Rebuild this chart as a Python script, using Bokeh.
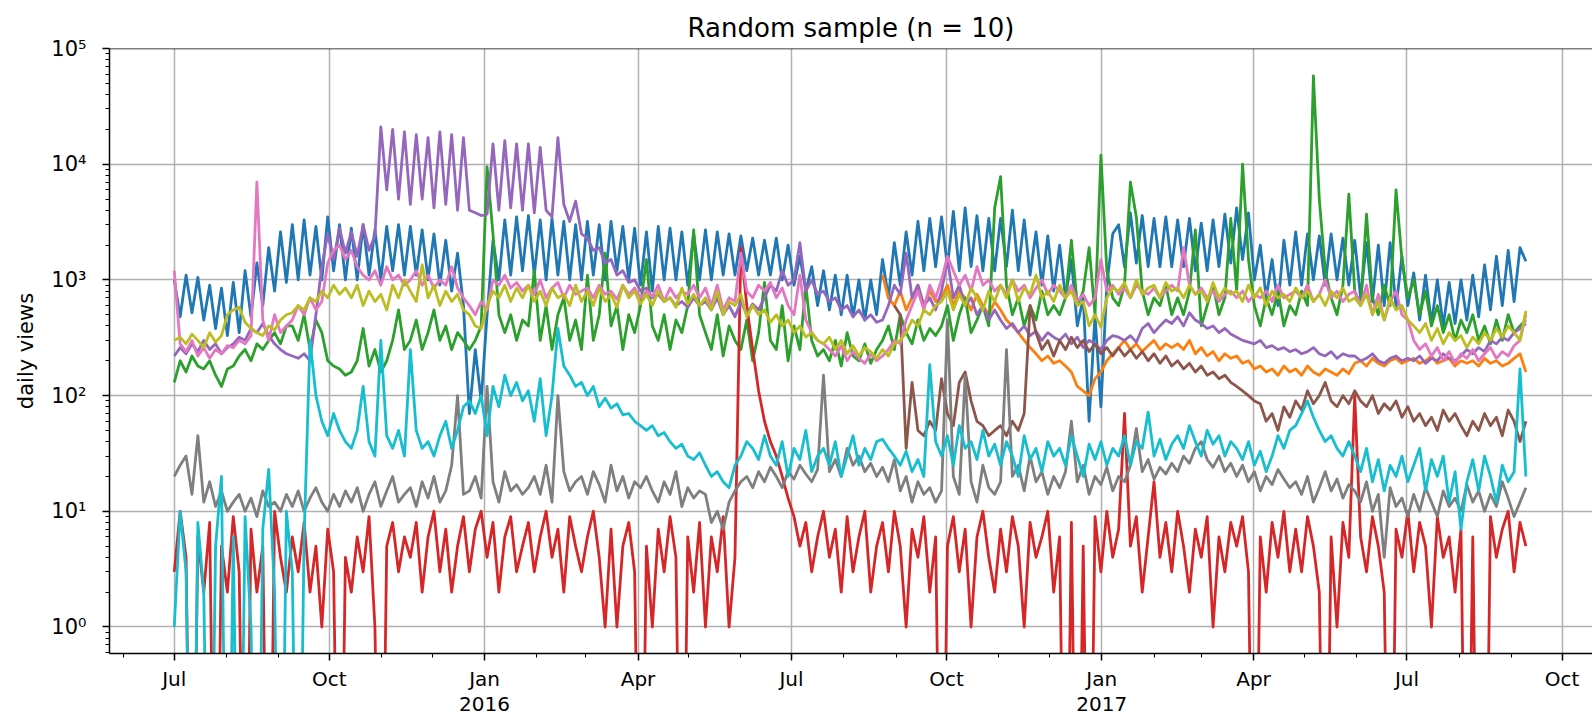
import numpy as np
from datetime import datetime, timezone
from bokeh.plotting import figure
from bokeh.models import Range1d, FixedTicker, CustomJSTickFormatter, LinearAxis, Span
from bokeh.embed import file_html
from bokeh.resources import INLINE

# ---------------- data (daily views, one value every 3.5 days from 2015-07-01) ----------------
START_DATE = (2015, 7, 1)
STEP_DAYS = 3.5
TITLE = "Random sample (n = 10)"

views_blue = [
    1000, 480, 1100, 520, 1050, 450, 900, 380, 850, 330,
    950, 350, 1200, 480, 1400, 600, 1900, 800, 2600, 950,
    3000, 1000, 3300, 1100, 2900, 1000, 3500, 1200, 3000, 1000,
    2800, 1000, 3000, 1100, 2700, 1000, 2900, 1200, 3000, 1100,
    2900, 1100, 2700, 1000, 2500, 900, 2200, 800, 1700, 600,
    70, 250, 90, 500, 2200, 1000, 3300, 1100, 3500, 1200,
    3600, 1100, 3300, 1000, 3400, 1100, 3200, 1000, 3000, 1000,
    3200, 1100, 3000, 1000, 3200, 1200, 2900, 1000, 2800, 900,
    2600, 800, 2900, 1000, 2800, 1000, 2600, 900, 2500, 1000,
    2700, 1000, 2600, 1100, 2500, 1100, 2400, 1200, 2300, 1100,
    2200, 1100, 2300, 1000, 2000, 900, 1600, 800, 1300, 600,
    1200, 550, 1100, 500, 1100, 480, 1000, 450, 1000, 500,
    1500, 700, 2100, 900, 2600, 1100, 3200, 1200, 3400, 1300,
    3500, 1300, 3900, 1200, 4200, 1300, 3600, 1200, 3400, 1200,
    3400, 1300, 4000, 1200, 3300, 1100, 2600, 900, 2400, 800,
    2000, 700, 1500, 400, 700, 60, 500, 80, 900, 2500,
    3000, 1300, 3800, 1400, 3600, 1300, 3400, 1300, 3500, 1300,
    3300, 1300, 3400, 1200, 3100, 1200, 3300, 1300, 3700, 1400,
    4200, 1500, 3800, 1000, 2000, 700, 1500, 600, 2200, 900,
    2600, 900, 2500, 1000, 2400, 900, 2500, 1000, 2300, 900,
    2200, 700, 2100, 650, 2000, 600, 2100, 580, 1600, 600,
    1150, 450, 1100, 420, 1000, 400, 950, 420, 1000, 450,
    1100, 480, 1350, 550, 1600, 600, 1800, 650, 1900, 1450,
]

views_orange = [None] * 120 + [
    1100, 700, 600, 800, 550, 700, 900, 600, 800, 650,
    700, 900, 600, 800, 700, 550, 750, 600, 500, 650,
    550, 450, 400, 350, 300, 260, 230, 200, 220, 190,
    200, 180, 160, 120, 110, 100, 140, 160, 200, 230,
    260, 300, 250, 280, 240, 270, 300, 250, 280, 260,
    280, 250, 300, 230, 260, 220, 240, 200, 230, 210,
    220, 190, 200, 170, 180, 160, 170, 150, 180, 160,
    170, 150, 180, 160, 150, 170, 160, 150, 170, 155,
    190, 200, 180, 210, 190, 180, 200, 210, 190, 200,
    210, 190, 200, 220, 190, 200, 210, 180, 200, 190,
    200, 180, 210, 190, 200, 180, 190, 210, 230, 160,
]

views_green = [
    130, 200, 160, 220, 180, 170, 200, 150, 120, 170,
    180, 220, 250, 200, 280, 250, 300, 350, 280, 400,
    400, 300, 500, 250, 450, 350, 200, 180, 170, 150,
    160, 200, 380, 180, 250, 160, 200, 300, 550, 250,
    300, 450, 250, 350, 550, 300, 400, 250, 350, 300,
    250, 300, 400, 9500, 2500, 500, 350, 500, 300, 450,
    400, 1200, 300, 600, 250, 500, 700, 300, 450, 250,
    1100, 300, 500, 1700, 400, 600, 250, 500, 350, 600,
    1500, 400, 300, 500, 250, 450, 350, 600, 2700, 500,
    350, 250, 500, 220, 400, 300, 250, 450, 200, 350,
    950, 300, 250, 600, 200, 400, 250, 900, 300, 220,
    250, 200, 300, 180, 350, 220, 200, 280, 190, 250,
    300, 400, 250, 500, 350, 280, 450, 300, 380, 330,
    400, 600, 300, 500, 700, 350, 450, 600, 400, 4200,
    7800, 900, 500, 700, 400, 600, 450, 800, 500, 600,
    500, 700, 2200, 600, 800, 1900, 500, 12000, 1200, 700,
    600, 900, 7000, 3500, 800, 500, 700, 600, 900, 500,
    700, 500, 800, 2700, 400, 600, 900, 500, 700, 3400,
    800, 10000, 1500, 600, 400, 700, 500, 800, 400, 600,
    500, 800, 600, 58000, 5000, 1200, 700, 500, 900, 5500,
    800, 600, 3700, 700, 500, 900, 600, 6000, 1500, 700,
    1000, 500, 800, 400, 600, 350, 500, 300, 450, 350,
    500, 300, 400, 280, 450, 300, 500, 350, 400, 450,
]

views_red = [
    3, 10, 4, 0, 6, 2, 8, 0, 5, 2,
    9, 3, 0, 7, 2, 5, 0, 10, 4, 2,
    6, 3, 8, 2, 5, 1, 7, 3, 0, 4,
    2, 6, 3, 9, 1, 0, 5, 8, 3, 6,
    4, 8, 2, 6, 10, 3, 7, 2, 5, 9,
    3, 7, 10, 4, 8, 2, 6, 9, 3, 5,
    8, 3, 6, 10, 4, 7, 2, 9, 5, 3,
    6, 10, 4, 1, 7, 1, 5, 8, 3, 0,
    5, 1, 7, 3, 9, 4, 0, 6, 2, 8,
    1, 6, 3, 9, 1, 4, 1900, 600, 250, 110,
    60, 40, 30, 20, 13, 9, 5, 8, 3, 6,
    10, 4, 7, 2, 9, 3, 6, 10, 2, 5,
    8, 3, 10, 5, 1, 7, 4, 9, 2, 6,
    0, 5, 9, 3, 7, 1, 6, 10, 4, 2,
    7, 3, 9, 5, 1, 8, 4, 6, 10, 2,
    6, 0, 8, 0, 5, 0, 9, 3, 10, 4,
    7, 70, 5, 9, 2, 6, 18, 4, 8, 3,
    10, 5, 2, 7, 4, 9, 1, 6, 3, 8,
    5, 9, 3, 0, 6, 2, 8, 4, 10, 3,
    7, 3, 9, 5, 2, 0, 6, 1, 8, 4,
    100, 6, 3, 9, 5, 2, 0, 7, 4, 10,
    3, 8, 5, 1, 9, 4, 6, 2, 7, 0,
    6, 0, 0, 9, 4, 7, 10, 3, 8, 5,
]

views_purple = [
    220, 260, 230, 280, 240, 300, 250, 280, 230, 260,
    280, 320, 300, 380, 350, 420, 330, 280, 250, 230,
    220, 210, 230, 200, 500, 1300, 2500, 1500, 2800, 1700,
    2600, 1600, 3000, 1800, 2400, 21000, 6000, 20000, 5000, 19000,
    4500, 18000, 5000, 17000, 4200, 19000, 4500, 18000, 4000, 17000,
    4000, 3800, 3600, 3700, 15000, 4000, 16000, 4200, 15000, 4000,
    15000, 3800, 14000, 4000, 3500, 17000, 4500, 3200, 4800, 2500,
    2300, 1800, 1900, 1400, 1500, 1100, 1200, 950, 1000, 800,
    850, 700, 750, 650, 700, 600, 650, 580, 700, 600,
    650, 550, 700, 500, 600, 480, 650, 500, 620, 550,
    700, 900, 800, 1200, 900, 1000, 2100, 800, 1000, 750,
    800, 650, 700, 550, 600, 480, 550, 450, 500, 430,
    450, 600, 900, 750, 1700, 700, 900, 600, 700, 550,
    800, 1500, 700, 900, 600, 700, 500, 600, 450, 550,
    450, 380, 420, 350, 400, 330, 360, 300, 350, 320,
    300, 340, 280, 320, 260, 300, 280, 250, 300, 330,
    320, 300, 330, 290, 380, 420, 350, 400, 450, 420,
    480, 400, 520, 450, 420, 380, 400, 350, 380, 340,
    320, 300, 290, 280, 300, 260, 270, 250, 260, 240,
    250, 230, 240, 260, 230, 220, 240, 210, 230, 220,
    220, 200, 210, 230, 200, 190, 210, 220, 200, 210,
    200, 220, 190, 210, 200, 230, 210, 200, 220, 250,
    230, 260, 240, 300, 280, 320, 300, 350, 380, 420,
]

views_brown = [None] * 122 + [
    600, 500, 35, 130, 50, 45, 60, 50,
    140, 70, 55, 130, 160, 90, 60, 55, 45, 50,
    55, 45, 60, 50, 70, 600, 350, 250, 300, 220,
    300, 250, 320, 260, 300, 240, 280, 230, 260, 220,
    260, 220, 250, 210, 240, 200, 230, 190, 220, 180,
    200, 170, 190, 160, 180, 150, 160, 140, 150, 130,
    120, 110, 100, 90, 85, 60, 70, 50, 80, 65,
    90, 75, 110, 85, 100, 130, 90, 80, 100, 85,
    110, 90, 80, 100, 70, 85, 75, 90, 65, 80,
    60, 70, 55, 65, 50, 75, 60, 70, 55, 45,
    60, 50, 70, 55, 65, 45, 75, 60, 40, 60,
]

views_pink = [
    1200, 280, 240, 300, 220, 260, 210, 250, 230, 270,
    260, 300, 280, 330, 7000, 450, 300, 500, 350, 400,
    450, 600, 500, 700, 550, 650, 1400, 1800, 2000, 1500,
    1800, 1300, 1100, 1000, 1200, 900, 1300, 1000, 1100, 900,
    1000, 1200, 900, 1100, 850, 1000, 900, 1300, 850, 700,
    600, 500, 650, 550, 1000, 900, 1100, 850, 950, 800,
    900, 750, 1000, 700, 850, 950, 700, 900, 750, 800,
    850, 700, 900, 750, 800, 680, 900, 750, 850, 700,
    800, 720, 900, 650, 850, 700, 800, 750, 900, 700,
    850, 600, 900, 550, 700, 650, 1700, 800, 700, 900,
    800, 950, 700, 850, 600, 500, 1100, 450, 350, 300,
    280, 250, 220, 270, 200, 240, 210, 190, 230, 200,
    220, 250, 300, 280, 450, 600, 800, 550, 900, 700,
    1000, 1600, 1200, 900, 1100, 800, 1300, 900, 1000, 800,
    900, 750, 1000, 800, 900, 700, 850, 1000, 750, 900,
    800, 700, 900, 650, 750, 600, 700, 1500, 800, 900,
    750, 850, 700, 900, 800, 750, 850, 700, 800, 900,
    800, 1900, 900, 750, 850, 700, 800, 650, 750, 800,
    700, 800, 650, 750, 700, 800, 650, 900, 700, 750,
    800, 700, 900, 650, 750, 1000, 700, 800, 650, 750,
    800, 600, 900, 500, 750, 450, 650, 800, 500, 450,
    300, 250, 280, 220, 260, 200, 240, 190, 230, 210,
    250, 200, 230, 260, 210, 240, 220, 270, 300, 500,
]

views_gray = [
    20, 25, 30, 14, 45, 12, 18, 11, 15, 10,
    12, 14, 10, 13, 9, 15, 11, 12, 10, 14,
    11, 15, 10, 13, 16, 12, 10, 14, 11, 15,
    12, 16, 10, 14, 18, 11, 15, 20, 12, 14,
    16, 11, 18, 13, 20, 12, 15, 25, 100, 14,
    15, 20, 13, 120, 18, 12, 22, 15, 17, 14,
    16, 20, 14, 25, 12, 100, 22, 15, 18, 20,
    14, 22, 17, 12, 25, 15, 20, 13, 18, 16,
    20, 15, 12, 18, 14, 22, 11, 16, 13, 15,
    14, 8, 10, 7, 12, 15, 18, 20, 16, 22,
    18, 24, 20, 16, 22, 19, 25, 21, 18, 23,
    150, 22, 28, 20, 35, 25, 30, 22, 26, 20,
    24, 18, 28, 15, 20, 12, 18, 14, 16, 12,
    15, 450, 20, 14, 150, 18, 12, 25, 16, 14,
    18, 250, 20, 25, 15, 30, 18, 22, 14, 20,
    16, 22, 60, 18, 25, 14, 20, 17, 24, 15,
    20, 18, 25, 52, 22, 28, 19, 24, 21, 26,
    22, 30, 26, 35, 40, 28, 24, 30, 22, 26,
    20, 25, 18, 22, 15, 20, 17, 23, 19, 16,
    18, 14, 20, 12, 16, 22, 15, 19, 13, 17,
    15, 12, 18, 10, 14, 4, 16, 11, 13, 9,
    14, 10, 16, 12, 9, 15, 11, 13, 10, 17,
    12, 15, 10, 14, 11, 18, 13, 9, 12, 16,
]

views_olive = [
    300, 320, 280, 340, 300, 260, 350, 290, 330, 500,
    550, 580, 430, 380, 350, 330, 400, 370, 450, 500,
    520, 600, 550, 700, 650, 800, 700, 900, 750, 850,
    700, 900, 600, 800, 650, 750, 550, 900, 700, 1000,
    800, 650, 1350, 700, 900, 600, 800, 650, 750, 550,
    500, 400, 380, 600, 800, 700, 900, 650, 850, 700,
    900, 650, 800, 600, 850, 700, 750, 600, 900, 650,
    800, 600, 850, 650, 750, 580, 900, 700, 800, 620,
    750, 600, 800, 650, 700, 580, 850, 620, 750, 600,
    700, 550, 800, 500, 650, 600, 750, 480, 600, 500,
    550, 430, 500, 400, 450, 350, 400, 320, 350, 300,
    280, 320, 250, 300, 230, 270, 220, 260, 240, 210,
    250, 220, 280, 300, 350, 450, 400, 550, 500, 600,
    650, 800, 550, 750, 600, 850, 700, 550, 800, 650,
    900, 700, 1000, 650, 850, 750, 1100, 700, 800, 650,
    900, 700, 800, 600, 650, 400, 500, 390, 700, 850,
    800, 950, 700, 1000, 750, 850, 900, 700, 950, 800,
    850, 700, 900, 750, 800, 650, 950, 700, 850, 750,
    800, 650, 900, 700, 850, 600, 800, 700, 750, 650,
    850, 700, 800, 650, 750, 600, 800, 700, 850, 650,
    700, 600, 750, 500, 650, 450, 700, 550, 600, 450,
    400, 350, 420, 300, 380, 280, 350, 300, 330, 260,
    320, 280, 350, 300, 380, 320, 400, 350, 300, 540,
]

views_cyan = [
    1, 10, 3, 0, 8, 2, 0, 5, 20, 0,
    6, 0, 9, 1, 0, 7, 23, 2, 0, 10,
    3, 0, 6, 300, 100, 60, 45, 70, 50, 40,
    35, 50, 120, 40, 30, 300, 45, 35, 50, 30,
    250, 50, 35, 40, 30, 45, 60, 35, 50, 80,
    90, 70, 100, 45, 120, 80, 150, 100, 130, 90,
    110, 60, 140, 45, 100, 380, 180, 150, 120, 130,
    100, 120, 80, 95, 78, 85, 68, 70, 60, 55,
    50, 55, 45, 48, 40, 35, 38, 30, 28, 32,
    25, 20, 22, 18, 16, 25, 30, 40, 35, 28,
    45, 30, 25, 40, 20, 35, 28, 50, 22, 30,
    35, 25, 40, 20, 30, 45, 25, 35, 28, 40,
    42, 35, 30, 25, 33, 22, 28, 20, 185, 40,
    30, 45, 25, 55, 35, 40, 28, 50, 30, 38,
    25, 40, 30, 20, 45, 28, 35, 22, 40, 30,
    35, 25, 45, 30, 20, 38, 28, 40, 25, 35,
    30, 45, 25, 40, 35, 72, 30, 42, 28, 38,
    45, 35, 55, 40, 30, 50, 38, 45, 30, 40,
    35, 28, 40, 25, 33, 22, 30, 45, 35, 50,
    55, 70, 90, 65, 50, 40, 45, 35, 30, 40,
    30, 22, 35, 18, 28, 15, 25, 20, 30, 18,
    25, 35, 15, 28, 20, 30, 12, 22, 7, 18,
    28, 15, 30, 20, 12, 25, 18, 22, 170, 20,
]

series = [views_blue, views_orange, views_green, views_red, views_purple,
          views_brown, views_pink, views_gray, views_olive, views_cyan]
colors = ["#1f77b4", "#ff7f0e", "#2ca02c", "#d62728", "#9467bd",
          "#8c564b", "#e377c2", "#7f7f7f", "#bcbd22", "#17becf"]

major_dates = [(2015, 7, 1), (2015, 10, 1), (2016, 1, 1), (2016, 4, 1), (2016, 7, 1),
               (2016, 10, 1), (2017, 1, 1), (2017, 4, 1), (2017, 7, 1), (2017, 10, 1)]
major_labels = ["Jul", "Oct", "Jan", "Apr", "Jul", "Oct", "Jan", "Apr", "Jul", "Oct"]
year_dates = [(2016, 1, 1), (2017, 1, 1)]
year_labels = ["2016", "2017"]

# ---------------- helpers ----------------
DAY_MS = 86400000.0


def ms(y, m, d):
    return datetime(y, m, d, tzinfo=timezone.utc).timestamp() * 1000.0


base = ms(*START_DATE)
n = len(views_blue)
x = base + np.arange(n) * STEP_DAYS * DAY_MS

major_ms = [ms(*t) for t in major_dates]
year_ms = [ms(*t) for t in year_dates]
minor_ms = []
for yy in (2015, 2016, 2017):
    for mm in range(1, 13):
        v = ms(yy, mm, 1)
        if ms(2015, 6, 1) <= v <= ms(2017, 10, 1):
            minor_ms.append(v)

FRAME_LEFT = 109
FRAME_TOP = 48
FRAME_BOTTOM = 653
W, H = 1592, 716
Y_LO, Y_HI = 0.59, 1e5
x_start = base - 38.4 * DAY_MS
x_end = base + 841.0 * DAY_MS

p = figure(width=W, height=H, x_axis_type="datetime", y_axis_type="log",
           x_range=Range1d(x_start, x_end), y_range=Range1d(Y_LO, Y_HI),
           output_backend="svg", toolbar_location=None,
           min_border_left=FRAME_LEFT, min_border_right=0,
           min_border_top=FRAME_TOP, min_border_bottom=H - FRAME_BOTTOM,
           title=TITLE)

p.background_fill_color = "white"
p.border_fill_color = "white"
p.outline_line_color = None

FONT = "DejaVu Sans"
p.title.align = "center"
p.title.vertical_align = "middle"
p.title.text_font = FONT
p.title.text_font_size = "26px"
p.title.text_font_style = "normal"
p.title.text_color = "#000000"
p.title.standoff = 10

for vals, c in zip(series, colors):
    arr = np.array(vals, dtype=float)
    arr = np.where(arr == 0, 1e-3, arr)  # zero views fall off the log axis
    p.line(x, arr, line_color=c, line_width=2.8, line_join="round")

# top spine
p.add_layout(Span(location=Y_HI, dimension="width", line_color="black", line_width=1.5))

LABEL_JS = """
for (let i = 0; i < tvals.length; i++) {
  if (Math.abs(tvals[i] - tick) < 43200000) { return tlabels[i]; }
}
return '';
"""

# x axis (months)
xax = p.xaxis[0]
xax.ticker = FixedTicker(ticks=major_ms, minor_ticks=minor_ms)
p.xgrid.ticker = FixedTicker(ticks=major_ms)
xax.formatter = CustomJSTickFormatter(args=dict(tvals=major_ms, tlabels=major_labels), code=LABEL_JS)
xax.major_label_text_font = FONT
xax.major_label_text_font_size = "20px"
xax.major_label_text_color = "#000000"
xax.major_label_standoff = 6
xax.major_tick_in = 0
xax.major_tick_out = 7
xax.minor_tick_in = 0
xax.minor_tick_out = 4
xax.axis_line_width = 1.5
xax.major_tick_line_width = 1.5
xax.minor_tick_line_width = 1.1
xax.axis_line_color = "black"
xax.major_tick_line_color = "black"
xax.minor_tick_line_color = "black"

# year labels under Jan ticks
yrax = LinearAxis(ticker=FixedTicker(ticks=year_ms, minor_ticks=[]),
                  formatter=CustomJSTickFormatter(args=dict(tvals=year_ms, tlabels=year_labels), code=LABEL_JS))
yrax.axis_line_color = None
yrax.major_tick_line_color = None
yrax.minor_tick_line_color = None
yrax.major_tick_in = 0
yrax.major_tick_out = 0
yrax.major_label_standoff = 3
yrax.major_label_text_font = FONT
yrax.major_label_text_font_size = "20px"
yrax.major_label_text_color = "#000000"
p.add_layout(yrax, "below")

# y axis (log)
ymin_ticks = []
for e in range(-1, 5):
    for m in range(2, 10):
        v = m * 10.0 ** e
        if Y_LO <= v <= Y_HI:
            ymin_ticks.append(v)
yax = p.yaxis[0]
yax.ticker = FixedTicker(ticks=[1, 10, 100, 1000, 10000, 100000], minor_ticks=ymin_ticks)
p.ygrid.ticker = FixedTicker(ticks=[1, 10, 100, 1000, 10000, 100000])
yax.formatter = CustomJSTickFormatter(code=r"""
const sup = ['\u2070', '\u00b9', '\u00b2', '\u00b3', '\u2074', '\u2075'];
const e = Math.round(Math.log10(tick));
return '10' + ((e >= 0 && e < 6) ? sup[e] : '');
""")
yax.major_label_text_font = FONT
yax.major_label_text_font_size = "21px"
yax.major_label_text_color = "#000000"
yax.major_label_standoff = 16
yax.major_tick_in = 0
yax.major_tick_out = 7
yax.minor_tick_in = 0
yax.minor_tick_out = 4
yax.axis_line_width = 1.5
yax.major_tick_line_width = 1.5
yax.minor_tick_line_width = 1.1
yax.axis_line_color = "black"
yax.major_tick_line_color = "black"
yax.minor_tick_line_color = "black"
yax.axis_label = "daily views"
yax.axis_label_text_font = FONT
yax.axis_label_text_font_size = "21px"
yax.axis_label_text_font_style = "normal"
yax.axis_label_text_color = "#000000"
yax.axis_label_standoff = 10

for g in (p.xgrid, p.ygrid):
    g.grid_line_color = "#b0b0b0"
    g.grid_line_width = 1.5

html = file_html(p, INLINE)
with open("out.html", "w", encoding="utf-8") as f:
    f.write(html)
